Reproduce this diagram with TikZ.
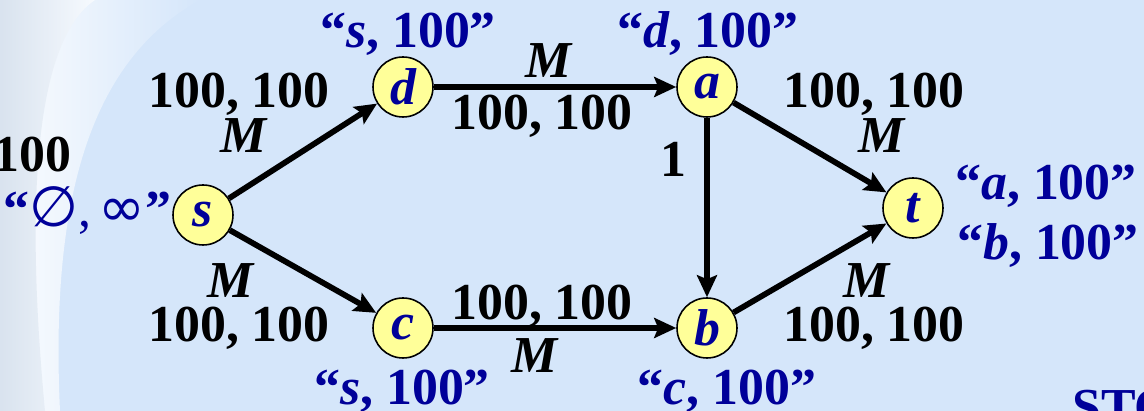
\documentclass[tikz,border=0pt]{standalone}
\usepackage{fontspec}
\setmainfont{Liberation Serif}
\newfontfamily\symfont{DejaVu Sans}
\usepackage{xcolor}
\usepackage{tikz}
\usetikzlibrary{arrows.meta}

\definecolor{slidebg}{HTML}{D5E6FA}
\definecolor{nodefill}{HTML}{FFFF99}
\definecolor{lblue}{HTML}{000099}

\begin{document}
\begin{tikzpicture}[
    x=0.02cm, y=-0.02cm,
    vtx/.style={circle, draw, line width=0.9pt, fill=nodefill, minimum size=1.2cm,
                inner sep=0pt, text=lblue, font=\fontsize{29.5}{34}\selectfont\bfseries\itshape},
    elbl/.style={anchor=base, inner sep=0pt, font=\fontsize{29.5}{34}\selectfont\bfseries},
    mlab/.style={elbl, font=\fontsize{29.5}{34}\selectfont\bfseries\itshape},
    tag/.style={elbl, text=lblue},
    arr/.style={-{Stealth[length=4.4mm, width=4mm, inset=0.8mm]}, line width=1.15mm}
]
    \clip (0,0) rectangle (1144,411);
    \fill[slidebg] (0,0) rectangle (1144,411);
    \shade[left color=white!90!slidebg, right color=slidebg]
        (0,0) -- (200,0) .. controls (90,60) and (50,200) .. (60,411) -- (0,411) -- cycle;
    \shade[left color=slidebg!85!gray!70, right color=white!80!slidebg]
        (0,0) -- (95,0) .. controls (35,40) and (25,200) .. (45,411) -- (0,411) -- cycle;

    \node[vtx] (s) at (203,215) {s};
    \node[vtx] (d) at (403,87) {d};
    \node[vtx] (a) at (707,87) {a};
    \node[vtx] (c) at (403,328) {c};
    \node[vtx] (b) at (707,328) {b};
    \node[vtx] (t) at (913,208) {t};

    \draw[arr] (s) -- (d);
    \draw[arr] (s) -- (c);
    \draw[arr] (d) -- (a);
    \draw[arr] (c) -- (b);
    \draw[arr] (a) -- (b);
    \draw[arr] (a) -- (t);
    \draw[arr] (b) -- (t);

    \node[elbl] (fsd) at (239,108) {100, 100};
    \node[mlab] (msd) at (244,153) {M};
    \node[mlab] (msc) at (231,298) {M};
    \node[elbl] (fsc) at (239,342) {100, 100};
    \node[mlab] (mda) at (549,78) {M};
    \node[elbl] (fda) at (542,130) {100, 100};
    \node[elbl] (fcb) at (542,320) {100, 100};
    \node[mlab] (mcb) at (535,373) {M};
    \node[elbl] (fab) at (673,177) {1};
    \node[elbl] (fat) at (874,108) {100, 100};
    \node[mlab] (mat) at (882,153) {M};
    \node[mlab] (mbt) at (867,298) {M};
    \node[elbl] (fbt) at (874,342) {100, 100};
    \node[elbl, anchor=base east] (cut) at (72,172) {100};

    \node[tag, anchor=base east, font=\fontsize{29.5}{34}\selectfont] (ls) at (172,227)
        {\textbf{“}{\symfont\fontsize{32}{36}\selectfont ∅},\hspace{0.15em}{\symfont\fontsize{32}{36}\selectfont ∞}\textbf{”}};
    \node[tag] (ld) at (408,48) {“\textit{s}, 100”};
    \node[tag] (la) at (708,48) {“\textit{d}, 100”};
    \node[tag] (lc) at (402,405) {“\textit{s}, 100”};
    \node[tag] (lb) at (727,405) {“\textit{c}, 100”};
    \node[tag, anchor=base west] (lt1) at (955,200) {“\textit{a}, 100”};
    \node[tag, anchor=base west] (lt2) at (957,260) {“\textit{b}, 100”};
    \node[tag, anchor=base west] (sto) at (1072,425) {STO};
\end{tikzpicture}
\end{document}
